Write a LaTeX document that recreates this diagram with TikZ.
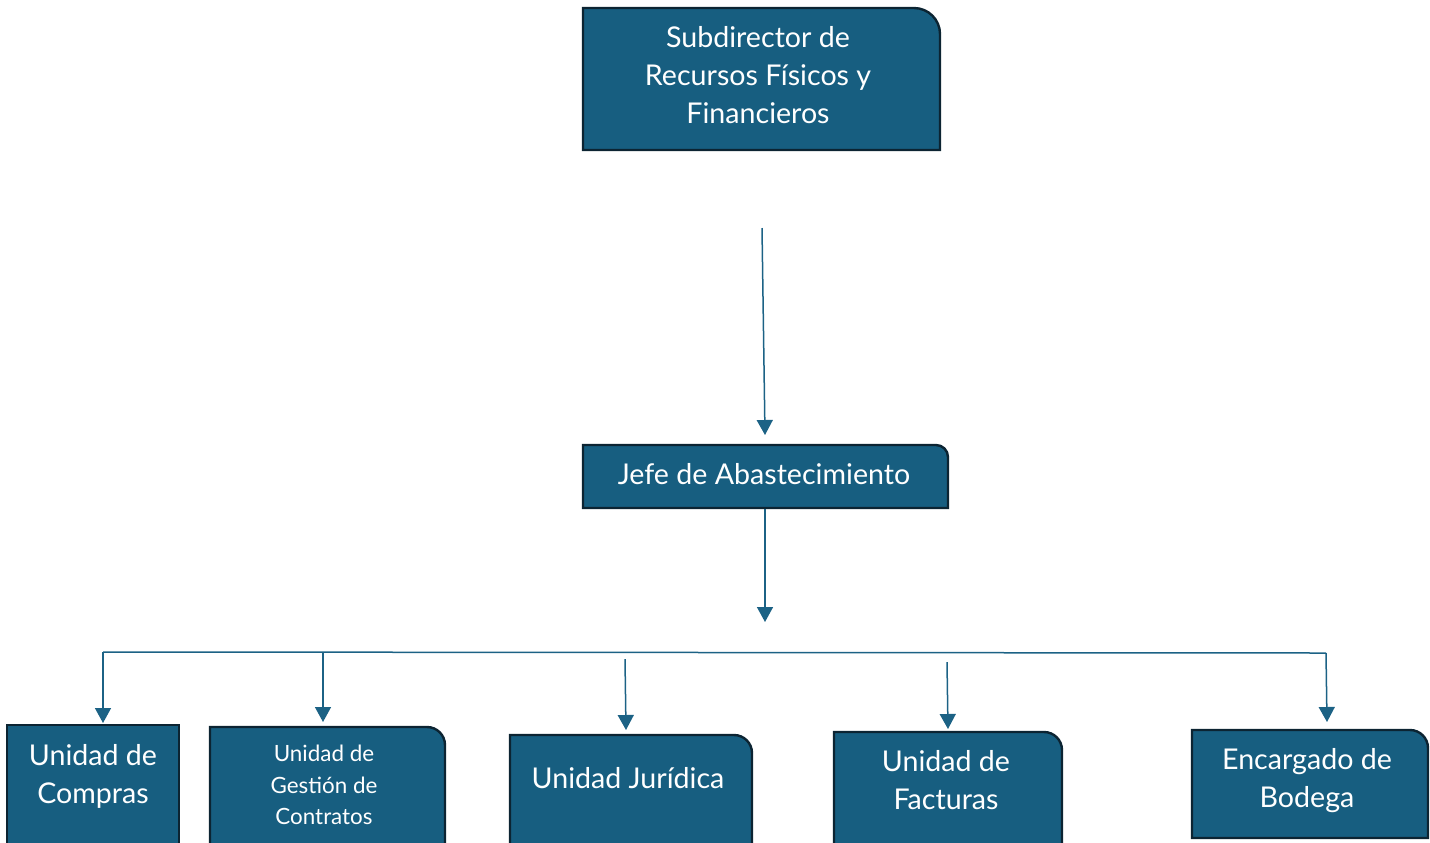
\documentclass[tikz,border=0pt]{standalone}
\usepackage{fontspec}
\setmainfont{Lato}
\usetikzlibrary{arrows.meta}
\definecolor{boxblue}{RGB}{23,94,128}
\definecolor{boxline}{RGB}{12,36,50}
\definecolor{linkblue}{RGB}{28,98,133}
% box with the top right corner rounded: left x, top y, right x, bottom y, radius
\newcommand{\unitbox}[5]{%
  \filldraw[box] (#1,#4) -- (#1,#2) -- ({#3-#5},#2)
    arc[start angle=270,end angle=360,radius=#5] -- (#3,#4) -- cycle;}
\begin{document}
\begin{tikzpicture}[x=0.5pt,y=-0.5pt]
  \tikzset{ box/.style={fill=boxblue,draw=boxline,line width=1.2pt},
    unittext/.style={text=white,align=center,inner sep=0pt,
      font=\fontsize{14.3}{19}\selectfont},
    small/.style={font=\fontsize{11.2}{15.75}\selectfont},
    link/.style={draw=linkblue,line width=0.75pt,-{Triangle[width=8pt,length=7.5pt]}},
    bus/.style={draw=linkblue,line width=0.75pt},
  }
  \useasboundingbox (0,0) rectangle (1430,842);
  \clip (0,0) rectangle (1430,842);

  % the boxes
  \unitbox{583}{8}{940}{150}{26}
  \unitbox{583}{445}{948}{508}{12}
  \filldraw[box] (7,725) rectangle (179,850);
  \unitbox{210}{727}{445}{850}{18}
  \unitbox{510}{735}{752}{850}{18}
  \unitbox{834}{732}{1062}{850}{18}
  \unitbox{1192}{730}{1428}{838}{18}

  % the texts
  \node[unittext] (sub) at (758,75) {Subdirector de\\Recursos Físicos y\\Financieros};
  \node[unittext] (jefe) at (764,474) {Jefe de Abastecimiento};
  \node[unittext] (comp) at (93,776) {Unidad de\\Compras};
  \node[unittext,small] (gest) at (324,785) {Unidad de\\Gestión de\\Contratos};
  \node[unittext] (jur) at (628,778) {Unidad Jurídica};
  \node[unittext] (fact) at (946,780) {Unidad de\\Facturas};
  \node[unittext] (bod) at (1307,781) {Encargado de\\Bodega};

  % the connection between the boxes
  \coordinate (sub-out) at (762,228);
  \coordinate (jefe-in) at (765,435);
  \coordinate (jefe-out) at (765,509);
  \coordinate (bus-in) at (765,622);
  \coordinate (bus-w) at (103,652);
  \coordinate (bus-e) at (1326,653);
  \draw[link] (sub-out) -- (jefe-in);
  \draw[link] (jefe-out) -- (bus-in);
  \draw[bus] (bus-w) -- (bus-e);
  \foreach \n/\xa/\ya/\xb/\yb in {comp/103/652/103/723, gest/323/652/323/722,
      jur/625/659/626/730, fact/947/662/948/729, bod/1326/653/1327/722}{
    \coordinate (\n-top) at (\xa,\ya);
    \coordinate (\n-in) at (\xb,\yb);
    \draw[link] (\n-top) -- (\n-in);
  }
\end{tikzpicture}
\end{document}
